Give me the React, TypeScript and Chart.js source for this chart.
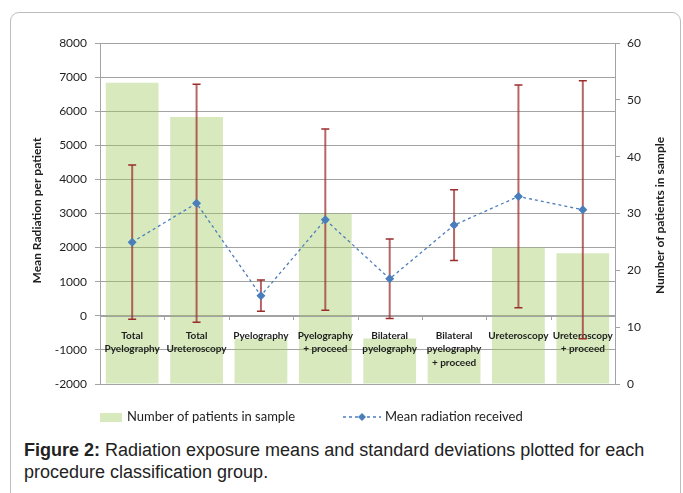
import React, { useEffect, useRef } from "react";
import { Chart, registerables } from "chart.js";

Chart.register(...registerables);

const categories: string[][] = [
  ["Total", "Pyelography"],
  ["Total", "Ureteroscopy"],
  ["Pyelography"],
  ["Pyelography", "+ proceed"],
  ["Bilateral", "pyelography"],
  ["Bilateral", "pyelography", "+ proceed"],
  ["Ureteroscopy"],
  ["Ureteroscopy", "+ proceed"],
];
const patientCounts = [53, 47, 8, 30, 8, 6, 24, 23];
const meanRadiation = [2160, 3300, 590, 2820, 1085, 2660, 3500, 3110];
const sdRadiation = [2260, 3490, 460, 2655, 1165, 1035, 3265, 3780];
const leftTicks = { min: -2000, max: 8000, step: 1000 };
const rightTicks = { min: 0, max: 60, step: 10 };
const barLabel = "Number of patients in sample";
const lineLabel = "Mean radiation received";
const leftTitle = "Mean Radiation per patient";
const rightTitle = "Number of patients in sample";

const FONT = "Lato, 'Noto Sans', sans-serif";
const GRID = "#a3a3a3";
const TEXT = "#1e1e1e";
const BAR_FILL = "rgba(155,200,90,0.4)";
const LINE_COLOR = "#4a7ebb";
const ERR_COLOR = "rgba(160,50,50,0.75)";
const ERR_CAP = "#9b2c2c";

const customPlugin = {
  id: "customDecor",
  beforeDatasetDraw(chart: any, args: any) {
    if (args.index !== 1) return;
    const ctx = chart.ctx;
    const x = chart.scales.x;
    const y = chart.scales.y;
    const area = chart.chartArea;
    const y0 = y.getPixelForValue(0);
    ctx.save();
    ctx.strokeStyle = GRID;
    ctx.lineWidth = 1;
    ctx.beginPath();
    ctx.moveTo(area.left, Math.round(y0) + 0.5);
    ctx.lineTo(area.right, Math.round(y0) + 0.5);
    const n = categories.length;
    const w = (area.right - area.left) / n;
    for (let i = 1; i <= n; i++) {
      const px = Math.round(area.left + i * w) + 0.5;
      ctx.moveTo(px, Math.round(y0));
      ctx.lineTo(px, Math.round(y0) + 4);
    }
    ctx.stroke();
    ctx.fillStyle = TEXT;
    ctx.font = `bold 10px ${FONT}`;
    ctx.textAlign = "center";
    ctx.textBaseline = "alphabetic";
    categories.forEach((lines, i) => {
      const cx = x.getPixelForValue(i);
      lines.forEach((t, j) => {
        ctx.fillText(t, cx, y0 + 23 + j * 13.5);
      });
    });
    meanRadiation.forEach((m, i) => {
      const cx = x.getPixelForValue(i);
      const top = y.getPixelForValue(m + sdRadiation[i]);
      const bot = y.getPixelForValue(m - sdRadiation[i]);
      ctx.strokeStyle = ERR_COLOR;
      ctx.lineWidth = 2;
      ctx.beginPath();
      ctx.moveTo(cx, top);
      ctx.lineTo(cx, bot);
      ctx.stroke();
      ctx.strokeStyle = ERR_CAP;
      ctx.lineWidth = 1.5;
      ctx.beginPath();
      ctx.moveTo(cx - 4, top);
      ctx.lineTo(cx + 4, top);
      ctx.moveTo(cx - 4, bot);
      ctx.lineTo(cx + 4, bot);
      ctx.stroke();
    });
    ctx.restore();
  },
  afterDraw(chart: any) {
    const ctx = chart.ctx;
    const area = chart.chartArea;
    const cy = (area.top + area.bottom) / 2;
    ctx.save();
    ctx.fillStyle = TEXT;
    ctx.font = `bold 12px ${FONT}`;
    ctx.textAlign = "center";
    ctx.textBaseline = "middle";
    ctx.save();
    ctx.translate(37, cy - 3);
    ctx.rotate(-Math.PI / 2);
    ctx.fillText(leftTitle, 0, 0);
    ctx.restore();
    ctx.save();
    ctx.translate(660, cy + 2);
    ctx.rotate(-Math.PI / 2);
    ctx.fillText(rightTitle, 0, 0);
    ctx.restore();
    const ly = 417;
    ctx.fillStyle = BAR_FILL;
    ctx.fillRect(100, ly - 4, 22, 9);
    ctx.fillStyle = TEXT;
    ctx.font = `13px ${FONT}`;
    ctx.textAlign = "left";
    ctx.fillText(barLabel, 127, ly);
    ctx.strokeStyle = LINE_COLOR;
    ctx.lineWidth = 1.5;
    ctx.setLineDash([3, 3]);
    ctx.beginPath();
    ctx.moveTo(343, ly);
    ctx.lineTo(381, ly);
    ctx.stroke();
    ctx.setLineDash([]);
    ctx.fillStyle = LINE_COLOR;
    ctx.beginPath();
    ctx.moveTo(362, ly - 4);
    ctx.lineTo(366, ly);
    ctx.lineTo(362, ly + 4);
    ctx.lineTo(358, ly);
    ctx.closePath();
    ctx.fill();
    ctx.fillStyle = TEXT;
    ctx.fillText(lineLabel, 385, ly);
    ctx.restore();
  },
};

export default function App() {
  const ref = useRef<HTMLCanvasElement>(null);
  useEffect(() => {
    if (!ref.current) return;
    const chart = new Chart(ref.current, {
      type: "bar",
      data: {
        labels: categories.map((c) => c.join(" ")),
        datasets: [
          {
            type: "bar",
            label: barLabel,
            data: patientCounts,
            yAxisID: "y1",
            backgroundColor: BAR_FILL,
            borderWidth: 0,
            barPercentage: 0.82,
            categoryPercentage: 1,
            order: 1,
          },
          {
            type: "line",
            label: lineLabel,
            data: meanRadiation,
            yAxisID: "y",
            borderColor: LINE_COLOR,
            borderWidth: 1.3,
            borderDash: [3, 3],
            pointStyle: "rectRot",
            pointRadius: 4.5,
            pointBackgroundColor: LINE_COLOR,
            pointBorderColor: LINE_COLOR,
            pointBorderWidth: 0,
            tension: 0,
            order: 0,
          },
        ] as any,
      },
      options: {
        animation: false,
        responsive: false,
        events: [],
        layout: { padding: { top: 43, bottom: 46, left: 0, right: 0 } },
        plugins: { legend: { display: false }, tooltip: { enabled: false } },
        scales: {
          x: { display: false, offset: true },
          y: {
            position: "left",
            min: leftTicks.min,
            max: leftTicks.max,
            ticks: {
              stepSize: leftTicks.step,
              color: TEXT,
              font: { family: FONT, size: 12 },
              padding: 8,
              callback: (v: any) => String(v),
            },
            grid: { color: GRID, tickLength: 5, drawTicks: true },
            border: { color: GRID },
            afterFit: (s: any) => {
              s.width = 100;
            },
          },
          y1: {
            position: "right",
            min: rightTicks.min,
            max: rightTicks.max,
            ticks: {
              stepSize: rightTicks.step,
              color: TEXT,
              font: { family: FONT, size: 12 },
              padding: 7,
              callback: (v: any) => String(v),
            },
            grid: { drawOnChartArea: false, color: GRID, tickLength: 5 },
            border: { color: GRID },
            afterFit: (s: any) => {
              s.width = 68;
            },
          },
        },
      } as any,
      plugins: [customPlugin],
    });
    return () => chart.destroy();
  }, []);

  return (
    <div
      style={{
        position: "fixed",
        left: 0,
        top: 0,
        width: 683,
        height: 493,
        background: "#fff",
        overflow: "hidden",
      }}
    >
      <div
        style={{
          position: "absolute",
          left: 10,
          top: 12,
          width: 671,
          height: 520,
          border: "1px solid #bdbdbd",
          borderRadius: 9,
          boxSizing: "border-box",
        }}
      />
      <canvas
        ref={ref}
        width={683}
        height={430}
        style={{ position: "absolute", left: 0, top: 0, width: 683, height: 430 }}
      />
      <div
        style={{
          position: "absolute",
          left: 24,
          top: 439,
          width: 645,
          fontFamily: "'Liberation Sans', Arial, sans-serif",
          fontSize: 18,
          lineHeight: "22px",
          color: "#222",
        }}
      >
        <b>Figure 2:</b> Radiation exposure means and standard deviations plotted for each
        procedure classification group.
      </div>
    </div>
  );
}
